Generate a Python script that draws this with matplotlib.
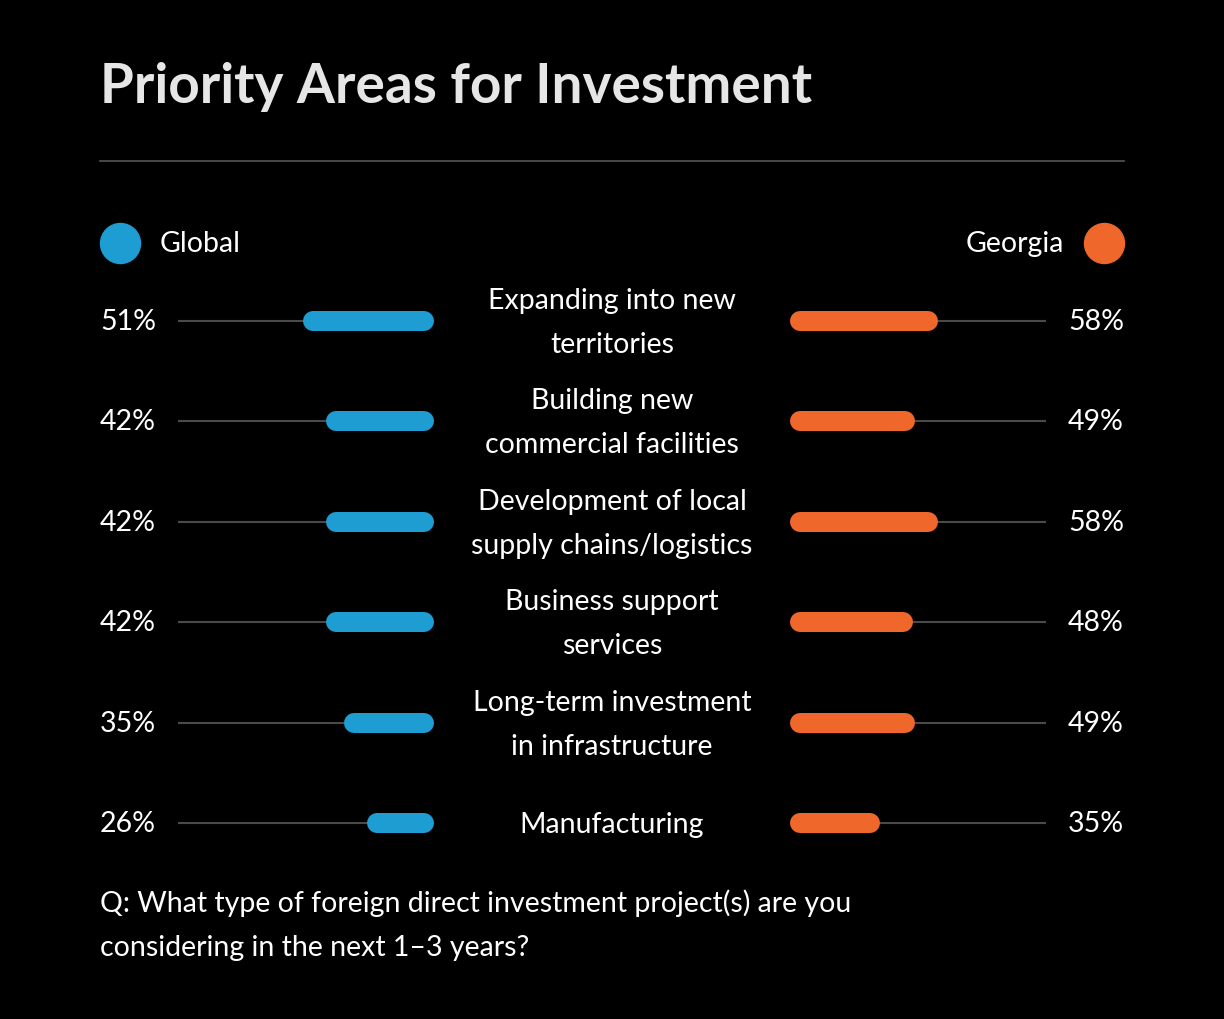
import matplotlib
matplotlib.use("Agg")
import matplotlib.pyplot as plt

categories = [
    "Expanding into new\nterritories",
    "Building new\ncommercial facilities",
    "Development of local\nsupply chains/logistics",
    "Business support\nservices",
    "Long-term investment\nin infrastructure",
    "Manufacturing",
]
global_pct = [51, 42, 42, 42, 35, 26]
georgia_pct = [58, 49, 58, 48, 49, 35]

BLUE = "#1E9DD3"
ORANGE = "#EF672A"
TRACK = "#4a4a4a"
W, H = 1224, 1020
FS = 20.5
plt.rcParams["font.family"] = ["Lato", "DejaVu Sans"]

fig = plt.figure(figsize=(W / 100, H / 100), dpi=100, facecolor="black")
bg = fig.add_axes([0, 0, 1, 1])
bg.set_xlim(0, W)
bg.set_ylim(H, 0)
bg.axis("off")
bg.set_facecolor("black")

bg.text(100, 87, "Priority Areas for Investment", color="#e6e6e6", fontsize=39.5,
        fontweight="bold", va="center", ha="left")
bg.plot([100, 1124], [162, 162], color="#555555", lw=1.2)

bg.scatter([120], [244], s=830, color=BLUE)
bg.text(160, 244, "Global", color="white", fontsize=FS, va="center")
bg.scatter([1104], [244], s=830, color=ORANGE)
bg.text(1064, 244, "Georgia", color="white", fontsize=FS, va="center", ha="right")

bg.text(100, 925, "Q: What type of foreign direct investment project(s) are you\n"
        "considering in the next 1–3 years?", color="white", fontsize=FS,
        va="center", linespacing=1.85)

rows = [322 + 100.4 * i for i in range(len(categories))]

# bar axes: 100% spans 256 px
left = fig.add_axes([178 / W, 0, 256 / W, 1])
right = fig.add_axes([790 / W, 0, 256 / W, 1])
cap = 10 / 2.56  # round cap radius in data units
for ax, vals, col, flip in [(left, global_pct, BLUE, True), (right, georgia_pct, ORANGE, False)]:
    ax.set_xlim((100, 0) if flip else (0, 100))
    ax.set_ylim(H, 0)
    ax.axis("off")
    ax.patch.set_alpha(0)
    for y, v in zip(rows, vals):
        ax.plot([0, 100], [y, y], color=TRACK, lw=1.5, solid_capstyle="butt")
        ax.plot([cap, v - cap], [y, y], color=col, lw=14.4, solid_capstyle="round")

for y, cat, g, k in zip(rows, categories, global_pct, georgia_pct):
    bg.text(100, y, f"{g}%", color="white", fontsize=FS, va="center", ha="left")
    bg.text(1124, y, f"{k}%", color="white", fontsize=FS, va="center", ha="right")
    bg.text(612, y + 1, cat, color="white", fontsize=FS, va="center", ha="center",
            linespacing=1.85)

fig.savefig("out.png", dpi=100, facecolor="black")
